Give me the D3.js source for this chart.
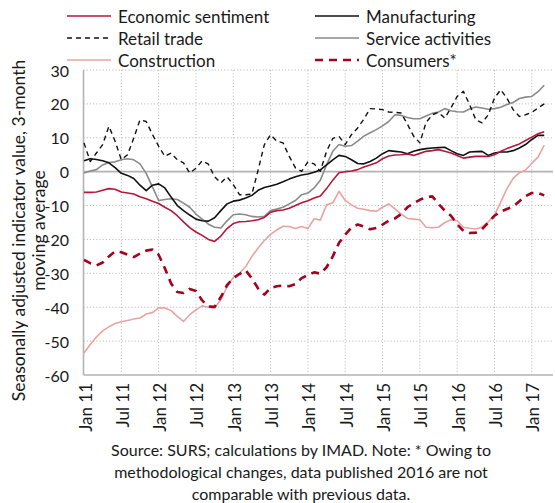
<!DOCTYPE html>
<html><head><meta charset="utf-8">
<script src="https://cdn.jsdelivr.net/npm/d3@7"></script>
<style>body{margin:0;background:#fff} svg text{font-family:Lato,"Open Sans",sans-serif;fill:#1a1a1a}</style>
</head><body><svg id="c" width="555" height="503"></svg>
<script>
const tickLabels = ["Jan 11","Jul 11","Jan 12","Jul 12","Jan 13","Jul 13","Jan 14","Jul 14","Jan 15","Jul 15","Jan 16","Jul 16","Jan 17"];
const yTicks = [-60,-50,-40,-30,-20,-10,0,10,20,30];
// monthly values Jan 2011 .. Mar 2017
const economicSentiment = [-6.1,-6.1,-6,-5.5,-5,-5.2,-6,-6.3,-6.6,-7.4,-8,-8.7,-9.4,-10.5,-11.5,-13,-14.8,-16.5,-17.8,-18.8,-20,-20.6,-19,-16.8,-15.3,-14.8,-14.7,-14.5,-14.2,-13.5,-12,-11.5,-11.3,-10.8,-10,-9.2,-8.6,-7.8,-7.2,-5,-2.5,-0.3,0,0.2,0.6,1.4,2,2.6,3.8,4.6,4.9,5,5.2,4.8,5.4,6,6.2,6.5,6,5.5,4.8,4,4.3,4.5,4.5,4.5,5,6,6.8,7.5,8.2,9.2,10.2,11.2,11.8];
const manufacturing = [3.2,3.8,3.6,3.2,2.6,1.2,-0.5,-1.1,-2,-4,-5.6,-4,-3.6,-4.8,-7.5,-10,-11.5,-12.8,-14,-14.5,-14.6,-13.6,-11.5,-9.5,-8.7,-8.4,-7.8,-7,-5.5,-4.7,-4.2,-3.7,-3,-2.2,-1.5,-1,-0.7,-0.2,0.5,2,3.5,4.8,4.5,3.5,2.4,2.3,3,4,5.3,6.2,6,5.8,5.3,6,6.5,6.8,7,7.1,7.2,6.2,5.3,4.8,5.8,5.9,6,4.8,5.5,5.8,5.8,6.2,7,8,9.5,10.7,10.7];
const retailTrade = [8.5,3,5.5,8,13.4,9,3.5,5,9.9,15.3,14.8,11,7.5,4.5,5.5,3.5,2.6,-0.4,1,3.2,2.2,-1.5,-3.3,-1.5,-3.8,-6.8,-6.8,-6.6,0.5,8,10.9,9,8.5,4.5,1.1,0.1,2.9,2.3,0.1,6,9.8,10.4,8,10.9,12.9,15.5,18.6,18.5,18.3,17.6,17.5,17.3,14,10.5,8.5,14.5,16.8,17.5,15.8,18.8,22.2,23.7,19.8,15.3,14.4,16.8,21.7,24.2,21.7,18.3,16.3,16.8,17.5,18.8,20];
const serviceActivities = [-0.4,0.2,0.6,2,2.7,2.9,3.5,3.8,3.5,2.3,-0.5,-4.5,-8.5,-8.2,-8,-8.2,-9.3,-10.5,-12.5,-14,-15.5,-16.4,-16.6,-14.5,-12.7,-12.5,-12.7,-13.2,-13.4,-13.2,-11.5,-11,-10.5,-9.5,-8.5,-6.8,-6.3,-4.8,-2.5,2,6,8,7.5,7.7,9,10.5,11.5,12.4,13.5,14.8,16.8,16.6,16,15.6,15.6,16.4,17.2,17.6,18.6,18,17.7,17.6,18.5,19.1,18.8,18.4,18.6,19,19.8,20.4,21.6,22,22.2,23.6,25.5];
const construction = [-53.5,-51,-48.8,-47,-45.8,-44.8,-44.3,-43.9,-43.5,-43.2,-42,-41.6,-40.2,-40.2,-41,-42.7,-44.2,-42.2,-40.8,-39.6,-40,-40.2,-37.8,-34,-31.2,-30,-28,-25,-22.5,-20.3,-18.5,-17.2,-16.1,-16.2,-16.8,-16.2,-16.8,-13.9,-14.3,-9.8,-9.2,-5.8,-8.5,-9.8,-10.8,-11.1,-11.5,-11.7,-10.5,-9.5,-11,-12.5,-13.8,-14,-14.2,-16.4,-16.5,-16.4,-15,-14.2,-14.5,-16.4,-16.7,-16.9,-16.3,-14.8,-12.8,-9,-5,-2,-0.3,0.5,2.5,4.3,7.8];
const consumers = [-26,-27,-27.7,-26.8,-25,-23.5,-23.8,-24.5,-25.2,-24.2,-23.3,-23,-24.5,-28.5,-33,-35.5,-35.8,-34.6,-35.2,-38,-39.8,-39.9,-37,-33.5,-31.4,-30.2,-29.1,-31.5,-34.5,-36.3,-34.3,-33.8,-33.6,-33.8,-33.2,-31.4,-30.5,-29.7,-30.1,-28.2,-25,-21,-18.6,-16.5,-15.6,-16.2,-17,-16.6,-15.6,-14.5,-13.8,-12.5,-10.5,-9.3,-8.3,-7.5,-7.3,-9.5,-11.5,-13,-15.5,-17.5,-18.1,-18,-17,-15,-13,-11.8,-11,-10.3,-8.7,-7.2,-6.3,-6.3,-7];

const series = [
  {name:"Construction", data:construction, color:"#E9A3A3", w:1.6, dash:null},
  {name:"Consumers*", data:consumers, color:"#A5001E", w:2.6, dash:"8,6"},
  {name:"Service activities", data:serviceActivities, color:"#8A8A8A", w:1.6, dash:null},
  {name:"Retail trade", data:retailTrade, color:"#111", w:1.4, dash:"5,4"},
  {name:"Manufacturing", data:manufacturing, color:"#111", w:1.6, dash:null},
  {name:"Economic sentiment", data:economicSentiment, color:"#B5173A", w:1.6, dash:null}
];
const legendOrder = ["Economic sentiment","Manufacturing","Retail trade","Service activities","Construction","Consumers*"];

const svg = d3.select("#c");
const L=83.5, R=553, T=70, B=375;
const x = d3.scaleLinear().domain([0,72]).range([84,531.8]);
const y = d3.scaleLinear().domain([-60,30]).range([B,T]);
const grid = svg.append("g");
yTicks.filter(v=>v!==0 && v!==-60).forEach(v=>{
  grid.append("line").attr("x1",L).attr("x2",R).attr("y1",y(v)).attr("y2",y(v))
    .attr("stroke","#bdbdbd").attr("stroke-width",1).attr("stroke-dasharray","1.2,2");
});
tickLabels.forEach((t,k)=>{ if(k===0) return;
  grid.append("line").attr("x1",x(k*6)).attr("x2",x(k*6)).attr("y1",T).attr("y2",B)
    .attr("stroke","#bdbdbd").attr("stroke-width",1).attr("stroke-dasharray","1.2,2");
});
svg.append("line").attr("x1",L).attr("x2",R).attr("y1",y(0)).attr("y2",y(0)).attr("stroke","#b3b3b3").attr("stroke-width",1.6);
svg.append("line").attr("x1",L).attr("x2",L).attr("y1",T).attr("y2",B).attr("stroke","#b3b3b3").attr("stroke-width",1.6);
svg.append("line").attr("x1",L).attr("x2",R).attr("y1",B).attr("y2",B).attr("stroke","#b3b3b3").attr("stroke-width",1.6);

yTicks.forEach(v=>{
  svg.append("text").attr("x",69).attr("y",y(v)).attr("text-anchor","end").attr("dominant-baseline","central")
    .attr("font-size",16).text(v);
});
tickLabels.forEach((t,k)=>{
  svg.append("text").attr("transform",`translate(${x(k*6)+1},383) rotate(-90)`)
    .attr("text-anchor","end").attr("dominant-baseline","central").attr("font-size",17).text(t);
});
const cy=(T+B)/2+8;
svg.append("text").attr("transform",`translate(18,${cy}) rotate(-90)`).attr("text-anchor","middle")
  .attr("dominant-baseline","central").attr("font-size",17.5).text("Seasonally adjusted indicator value, 3-month");
svg.append("text").attr("transform",`translate(38,${cy}) rotate(-90)`).attr("text-anchor","middle")
  .attr("dominant-baseline","central").attr("font-size",17.5).text("moving average");

const line = d3.line().x((d,i)=>x(i)).y(d=>y(d));
series.forEach(s=>{
  svg.append("path").datum(s.data).attr("d",line).attr("fill","none").attr("stroke",s.color)
    .attr("stroke-width",s.w).attr("stroke-dasharray",s.dash).attr("stroke-linejoin","round");
});

const lg = svg.append("g");
legendOrder.forEach((n,k)=>{
  const s = series.find(q=>q.name===n);
  const col=k%2, row=Math.floor(k/2);
  const lx = col===0?67:315, ly = 16+row*22;
  lg.append("line").attr("x1",lx).attr("x2",lx+44).attr("y1",ly).attr("y2",ly).attr("stroke",s.color)
    .attr("stroke-width",s.w).attr("stroke-dasharray",s.dash);
  lg.append("text").attr("x",lx+51).attr("y",ly).attr("dominant-baseline","central").attr("font-size",17).text(n);
});

const notes = ["Source: SURS; calculations by IMAD. Note: * Owing to","methodological changes, data published 2016 are not","comparable with previous data."];
notes.forEach((t,k)=>{
  svg.append("text").attr("x",301).attr("y",456+k*22).attr("text-anchor","middle")
    .attr("font-size",16).text(t);
});
</script></body></html>
